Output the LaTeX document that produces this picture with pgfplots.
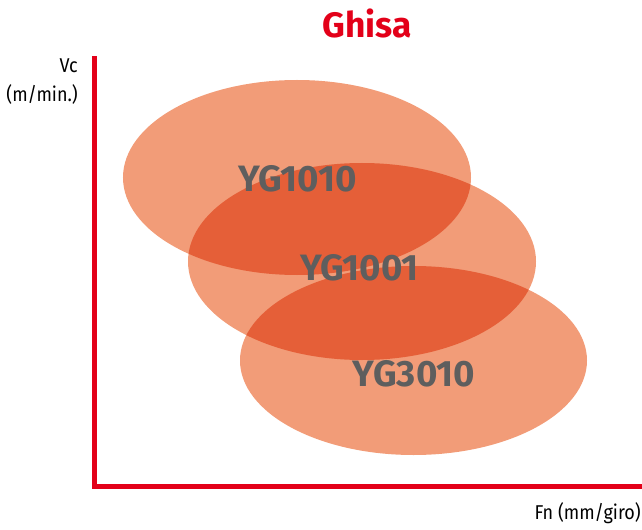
\documentclass[border=0pt]{standalone}
\usepackage{pgfplots}
\pgfplotsset{compat=1.18}
\usepackage{fontspec}
\setmainfont{Fira Sans}
\newfontfamily\condfont[FakeStretch=0.9]{Fira Sans}
\definecolor{ghred}{RGB}{227,0,25}
\definecolor{ellfill}{RGB}{242,156,120}
\definecolor{labgray}{RGB}{94,94,94}

\begin{document}
\begin{tikzpicture}
\begin{axis}[
  x=0.75pt, y=0.75pt,
  xmin=94.5, xmax=639.5, ymin=42.5, ymax=470.5,
  axis x line*=bottom, axis y line*=left,
  axis line style={ghred, line width=3.75pt, -, line cap=rect},
  xtick=\empty, ytick=\empty,
  clip=false,
]
% page frame (pixel units of the reference)
\path (axis cs:0,0) rectangle (axis cs:642,529);

% application ranges: centre x, centre y, radius x, radius y
\begin{scope}[blend group=multiply]
  \fill[ellfill] (axis cs:297,351.5) ellipse [x radius=174, y radius=97.5];
  \fill[ellfill] (axis cs:362,267.5) ellipse [x radius=174, y radius=98.5];
  \fill[ellfill] (axis cs:413.5,168.5) ellipse [x radius=173.5, y radius=94.5];
\end{scope}

\node[anchor=base, labgray, font=\fontsize{27.5}{27.5}\selectfont\bfseries] at (axis cs:297.5,337) {YG1010};
\node[anchor=base, labgray, font=\fontsize{27.5}{27.5}\selectfont\bfseries] at (axis cs:359.5,249) {YG1001};
\node[anchor=base, labgray, font=\fontsize{27.5}{27.5}\selectfont\bfseries] at (axis cs:414,143) {YG3010};

% title and axis names
\node[anchor=base, ghred, font=\fontsize{26.5}{26.5}\selectfont\bfseries] at (axis cs:367,491.5) {Ghisa};
\node[anchor=base east, inner sep=0pt, font=\condfont\fontsize{15}{15}\selectfont] at (axis cs:78,456) {Vc};
\node[anchor=base east, inner sep=0pt, font=\condfont\fontsize{15}{15}\selectfont] at (axis cs:78,427) {(m/min.)};
\node[anchor=base east, inner sep=0pt, font=\condfont\fontsize{15}{15}\selectfont] at (axis cs:641,10) {Fn (mm/giro)};
\end{axis}
\end{tikzpicture}
\end{document}
